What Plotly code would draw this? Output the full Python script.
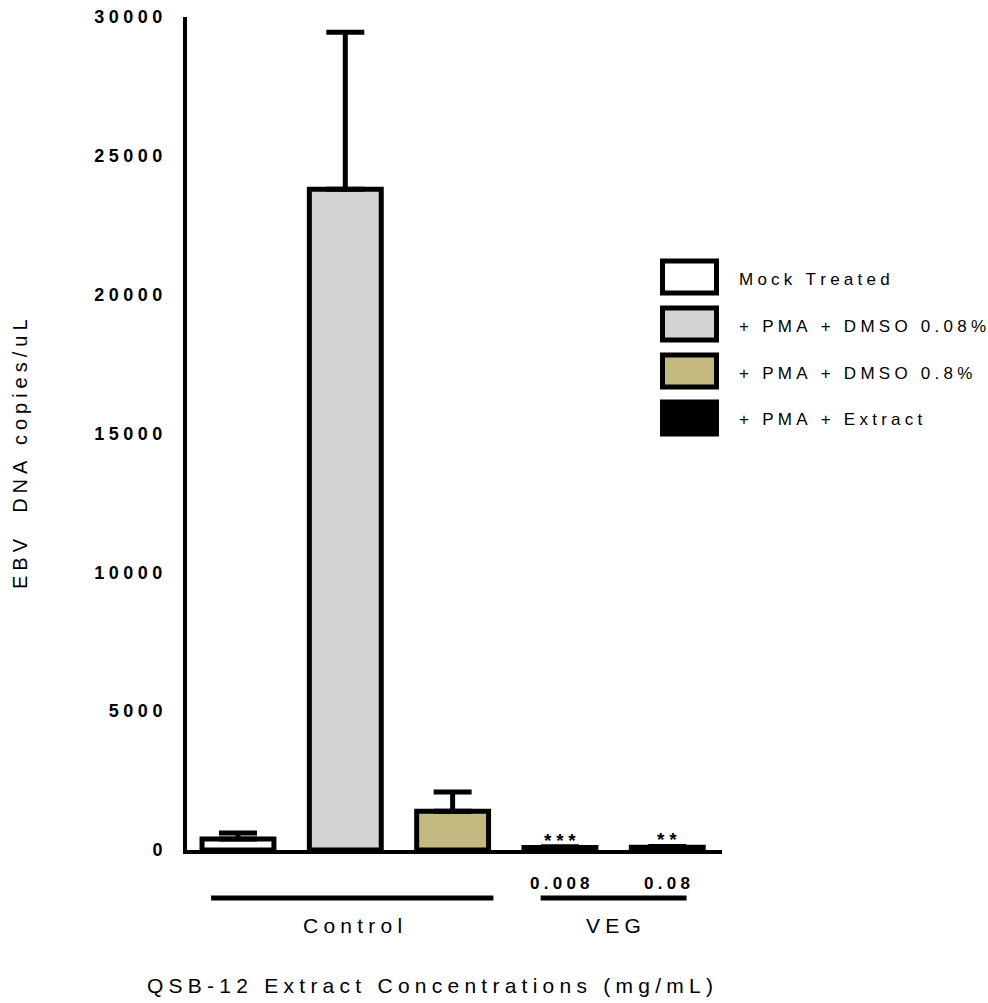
import plotly.graph_objects as go

# Data
categories = ["Mock Treated", "+ PMA + DMSO 0.08%", "+ PMA + DMSO 0.8%",
              "VEG 0.008", "VEG 0.08"]
copies = [400, 23800, 1400, 90, 95]
errors = [215, 5650, 690, 30, 35]
fills = ["#ffffff", "#d3d3d3", "#c2b880", "#000000", "#000000"]
significance = ["", "", "", "***", "**"]
dose_labels = ["", "", "", "0.008", "0.08"]
legend_names = ["Mock Treated", "+ PMA + DMSO 0.08%", "+ PMA + DMSO 0.8%",
                "+ PMA + Extract"]
legend_fills = ["#ffffff", "#d3d3d3", "#c2b880", "#000000"]
y_ticks = [0, 5000, 10000, 15000, 20000, 25000, 30000]
groups = [("Control", -0.25, 2.38), ("VEG", 2.82, 4.18)]

FONT = "Liberation Sans, Arial, sans-serif"
GAP = "\u2005"  # four-per-em space used as letter tracking


def tracked(text):
    """Spread the letters of a label apart."""
    return GAP.join(text)


W, H = 988, 1003
L, R, T, B = 187, 266, 17, 153
PW, PH = W - L - R, H - T - B


def px_x(px):
    return (px - L) / PW


def px_y(py):
    return (H - B - py) / PH


x_idx = list(range(len(categories)))

fig = go.Figure()
fig.add_trace(go.Bar(
    x=x_idx, y=copies, width=0.67,
    marker=dict(color=fills, line=dict(color="#000000", width=5)),
    error_y=dict(type="data", symmetric=False, array=errors,
                 arrayminus=[0] * len(errors), color="#000000",
                 thickness=5, width=19),
    showlegend=False, hoverinfo="skip",
))

annotations = []
# Significance stars above extract bars
for i, (v, e, s) in enumerate(zip(copies, errors, significance)):
    if s:
        annotations.append(dict(
            x=i, y=v + e, xref="x", yref="y", text=tracked(s),
            showarrow=False, yanchor="bottom", yshift=-6,
            font=dict(family=FONT, size=19, color="#000", weight="bold")))
# Dose labels under the axis
for i, d in enumerate(dose_labels):
    if d:
        annotations.append(dict(
            x=i, y=0, xref="x", yref="y", text=tracked(d),
            showarrow=False, yanchor="middle", yshift=-33,
            font=dict(family=FONT, size=17, color="#000", weight="bold")))

shapes = []
# Group brackets and names
for name, x0, x1 in groups:
    shapes.append(dict(type="line", xref="x", yref="paper",
                       x0=x0, x1=x1, y0=px_y(898), y1=px_y(898),
                       line=dict(color="#000", width=5)))
    annotations.append(dict(
        x=(x0 + x1) / 2, y=px_y(925), xref="x", yref="paper",
        text=tracked(name), showarrow=False, yanchor="middle",
        font=dict(family=FONT, size=21, color="#000")))

# Axis titles
annotations.append(dict(
    x=px_x(430), y=px_y(985), xref="paper", yref="paper",
    text=tracked("QSB-12 Extract Concentrations (mg/mL)"),
    showarrow=False, xanchor="center", yanchor="middle",
    font=dict(family=FONT, size=21, color="#000")))
annotations.append(dict(
    x=px_x(20), y=px_y(454), xref="paper", yref="paper",
    text=tracked("EBV  DNA copies/uL"), textangle=-90,
    showarrow=False, xanchor="center", yanchor="middle",
    font=dict(family=FONT, size=20, color="#000")))

# Legend drawn as framed swatches
row0, pitch = 277, 47
for k, (name, col) in enumerate(zip(legend_names, legend_fills)):
    cy = row0 + k * pitch
    shapes.append(dict(type="rect", xref="paper", yref="paper",
                       x0=px_x(662.5), x1=px_x(716.5),
                       y0=px_y(cy - 16), y1=px_y(cy + 16),
                       fillcolor=col, line=dict(color="#000", width=5)))
    annotations.append(dict(
        x=px_x(737), y=px_y(cy + 2), xref="paper", yref="paper",
        text=tracked(name), showarrow=False, xanchor="left",
        yanchor="middle",
        font=dict(family=FONT, size=17, color="#000")))

fig.update_layout(
    width=W, height=H,
    margin=dict(l=L, r=R, t=T, b=B, autoexpand=False),
    paper_bgcolor="#ffffff", plot_bgcolor="#ffffff",
    font=dict(family=FONT, color="#000"),
    showlegend=False,
    annotations=annotations, shapes=shapes,
    xaxis=dict(range=[-0.475, 4.51], showgrid=False, zeroline=False,
               showticklabels=False, ticks="", showline=True,
               linecolor="#000", linewidth=4, fixedrange=True),
    yaxis=dict(range=[0, 30000], showgrid=False, zeroline=False,
               tickmode="array", tickvals=y_ticks,
               ticktext=[tracked(str(t)) for t in y_ticks],
               ticks="", ticklabelstandoff=17, showline=True,
               linecolor="#000", linewidth=4,
               tickfont=dict(family=FONT, size=18, color="#000",
                             weight="bold"),
               fixedrange=True),
)

fig.write_html("out.html")
